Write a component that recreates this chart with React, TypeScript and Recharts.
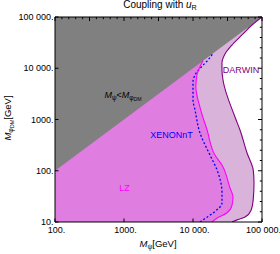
import React from 'react';
import { ComposedChart, Area, Line, XAxis, YAxis } from 'recharts';

const FONT = '"Liberation Sans", Arial, Helvetica, sans-serif';

// Axis ticks and labels
const xMajorTicks = [100, 1000, 10000, 100000];
const xTickLabels = ['100.', '1000.', '10 000.', '100 000.'];
const yMajorTicks = [10, 100, 1000, 10000, 100000];
const yTickLabels = ['10.', '100.', '1000.', '10 000.', '100 000.'];
// unlabelled frame ticks (top: every 0.1 decade, right: every 0.2 decade)
const topFrameTicks = Array.from({ length: 31 }, (_, i) => Math.pow(10, 2 + i * 0.1));
const rightFrameTicks = Array.from({ length: 21 }, (_, i) => Math.pow(10, 1 + i * 0.2));

// LZ exclusion curve: M_phiDM (y) vs M_psi (x)
const lzY = [10, 12, 15, 21, 31, 46, 129, 203, 624, 1750, 4300, 7400, 14000];
const lzX = [18800, 22400, 30900, 36700, 38000, 34400, 26300, 20800, 16000, 12600, 11000, 11400, 14000];

// XENONnT curve
const xenonY = [10, 11, 15, 23.4, 38, 102, 203, 550, 1530, 2400, 5400, 7400, 11500, 14500, 19500];
const xenonX = [12600, 14000, 19500, 26300, 26300, 22400, 17600, 12600, 10700, 10000, 10000, 10700, 14000, 16500, 19500];

// DARWIN curve
const darwinY = [10, 11, 12.5, 17, 27, 58, 104, 222, 624, 1120, 5900, 9250, 12600, 19000, 28400, 44700, 69800, 100000];
const darwinX = [36700, 43400, 56800, 69500, 74600, 76600, 74600, 60700, 48000, 40600, 27200, 26300, 26300, 29100, 36700, 51300, 71600, 100000];

// Diagonal M_psi = M_phiDM
const diagY = [100, 100000];
const diagX = [100, 100000];

const toRows = (ys: number[], xs: number[]) => ys.map((y, i) => ({ y, x: xs[i] }));
const lzData = toRows(lzY, lzX);
const xenonData = toRows(xenonY, xenonX);
const darwinData = toRows(darwinY, darwinX);
const diagData = toRows(diagY, diagX);

const BottomTick = (p: any) => {
  const { x, y, index } = p;
  return (
    <g>
      <line x1={x} x2={x} y1={y} y2={y - 3.5} stroke="#000" strokeWidth={1} />
      <text x={x + 1.5} y={y + 11} textAnchor="middle" fontSize={9} fontFamily={FONT} fill="#000">
        {xTickLabels[index]}
      </text>
    </g>
  );
};

const LeftTick = (p: any) => {
  const { x, y, index } = p;
  return (
    <g>
      <line x1={x} x2={x + 3.5} y1={y} y2={y} stroke="#000" strokeWidth={1} />
      <text x={x - 1.5} y={y + 3} textAnchor="end" fontSize={9} fontFamily={FONT} fill="#000">
        {yTickLabels[index]}
      </text>
    </g>
  );
};

const TopTick = (p: any) => {
  const { x, y, index } = p;
  const len = index % 5 === 0 ? 4 : 2.2;
  return <line x1={x} x2={x} y1={y} y2={y + len} stroke="#000" strokeWidth={1} />;
};

const RightTick = (p: any) => {
  const { x, y, index } = p;
  const len = index % 5 === 0 ? 4 : 2.2;
  return <line x1={x} x2={x - len} y1={y} y2={y} stroke="#000" strokeWidth={1} />;
};

const Sub = ({ children }: { children: React.ReactNode }) => (
  <span style={{ fontSize: '0.72em', verticalAlign: '-0.3em' }}>{children}</span>
);

const Txt = ({ cx, cy, size, color, rotate, children }: any) => (
  <div
    style={{
      position: 'absolute',
      left: cx,
      top: cy,
      fontSize: size,
      lineHeight: 1,
      color: color || '#000',
      whiteSpace: 'nowrap',
      fontFamily: FONT,
      transform: `translate(-50%, -50%)${rotate ? ` rotate(${rotate}deg)` : ''}`,
    }}
  >
    {children}
  </div>
);

export default function App() {
  return (
    <div style={{ position: 'absolute', left: 0, top: 0, width: 280, height: 254, background: '#fff' }}>
      <ComposedChart
        width={280}
        height={254}
        layout="vertical"
        margin={{ top: 0, right: 0, bottom: 0, left: 0 }}
      >
        <XAxis
          xAxisId="b"
          type="number"
          scale="log"
          domain={[100, 100000]}
          allowDataOverflow
          ticks={xMajorTicks}
          interval={0}
          height={32}
          tickSize={0}
          tickMargin={0}
          tickLine={false}
          axisLine={{ stroke: '#000' }}
          tick={(p: any) => <BottomTick {...p} />}
        />
        <XAxis
          xAxisId="t"
          orientation="top"
          type="number"
          scale="log"
          domain={[100, 100000]}
          allowDataOverflow
          ticks={topFrameTicks}
          interval={0}
          height={17}
          tickSize={0}
          tickMargin={0}
          tickLine={false}
          axisLine={{ stroke: '#000' }}
          tick={(p: any) => <TopTick {...p} />}
        />
        <YAxis
          yAxisId="l"
          type="number"
          dataKey="y"
          scale="log"
          reversed
          domain={[10, 100000]}
          allowDataOverflow
          ticks={yMajorTicks}
          interval={0}
          width={55}
          tickSize={0}
          tickMargin={0}
          tickLine={false}
          axisLine={{ stroke: '#000' }}
          tick={(p: any) => <LeftTick {...p} />}
        />
        <YAxis
          yAxisId="r"
          orientation="right"
          type="number"
          dataKey="y"
          scale="log"
          reversed
          domain={[10, 100000]}
          allowDataOverflow
          ticks={rightFrameTicks}
          interval={0}
          width={18}
          tickSize={0}
          tickMargin={0}
          tickLine={false}
          axisLine={{ stroke: '#000' }}
          tick={(p: any) => <RightTick {...p} />}
        />
        <Area
          xAxisId="b"
          yAxisId="l"
          data={darwinData}
          dataKey="x"
          type="monotone"
          baseValue={100}
          fill="#d9b3d9"
          fillOpacity={1}
          stroke="none"
          isAnimationActive={false}
        />
        <Area
          xAxisId="b"
          yAxisId="l"
          data={lzData}
          dataKey="x"
          type="monotone"
          baseValue={100}
          fill="#e07de0"
          fillOpacity={1}
          stroke="none"
          isAnimationActive={false}
        />
        <Area
          xAxisId="b"
          yAxisId="l"
          data={diagData}
          dataKey="x"
          type="linear"
          baseValue={100}
          fill="#808080"
          fillOpacity={1}
          stroke="none"
          isAnimationActive={false}
        />
        <Line
          xAxisId="b"
          yAxisId="l"
          data={xenonData}
          dataKey="x"
          type="monotone"
          stroke="#0000ff"
          strokeWidth={1.3}
          strokeDasharray="2 2"
          dot={false}
          isAnimationActive={false}
        />
        <Line
          xAxisId="b"
          yAxisId="l"
          data={lzData}
          dataKey="x"
          type="monotone"
          stroke="#ff00ff"
          strokeWidth={1.1}
          dot={false}
          isAnimationActive={false}
        />
        <Line
          xAxisId="b"
          yAxisId="l"
          data={darwinData}
          dataKey="x"
          type="monotone"
          stroke="#800080"
          strokeWidth={1.1}
          dot={false}
          isAnimationActive={false}
        />
      </ComposedChart>

      <Txt cx={160} cy={6} size={10}>
        Coupling with <i>u</i>
        <Sub>R</Sub>
      </Txt>
      <Txt cx={158} cy={245} size={9.5}>
        <i>M</i>
        <Sub>ψ</Sub>[GeV]
      </Txt>
      <Txt cx={9} cy={118} size={9.5} rotate={-90}>
        <i>M</i>
        <Sub>
          φ<span style={{ fontSize: '0.8em', verticalAlign: '-0.2em' }}>DM</span>
        </Sub>
        [GeV]
      </Txt>
      <Txt cx={123} cy={97} size={9}>
        <i>M</i>
        <Sub>ψ</Sub>&lt;<i>M</i>
        <Sub>
          φ<span style={{ fontSize: '0.8em', verticalAlign: '-0.2em' }}>DM</span>
        </Sub>
      </Txt>
      <Txt cx={241} cy={70} size={9} color="#800080">
        DARWIN
      </Txt>
      <Txt cx={171.5} cy={135} size={9} color="#0000ff">
        XENONnT
      </Txt>
      <Txt cx={124.5} cy={188} size={9} color="#ff00ff">
        LZ
      </Txt>
    </div>
  );
}
